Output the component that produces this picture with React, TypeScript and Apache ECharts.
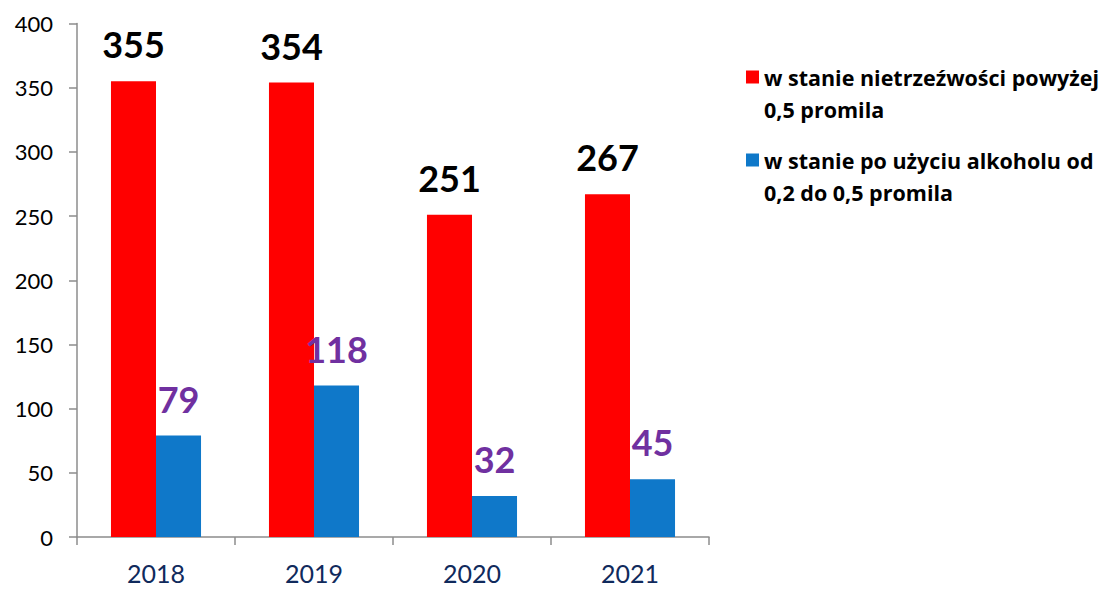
import React, { useEffect, useRef } from "react";
import * as echarts from "echarts";

const categories = ["2018", "2019", "2020", "2021"];
const seriesNames = [
  "w stanie nietrzeźwości powyżej\n0,5 promila",
  "w stanie po użyciu alkoholu od\n0,2 do 0,5 promila",
];
const drunkValues = [355, 354, 251, 267];
const alcoholValues = [79, 118, 32, 45];
const yTicks = [0, 50, 100, 150, 200, 250, 300, 350, 400];

export default function App() {
  const ref = useRef<HTMLDivElement>(null);
  useEffect(() => {
    if (!ref.current) return;
    const chart = echarts.init(ref.current, undefined, { renderer: "svg" });
    const font = "Lato, 'Noto Sans', sans-serif";
    const legendText = {
      fontFamily: "'Open Sans', Lato, sans-serif",
      fontWeight: "bold" as const,
      fontSize: 21.5,
      color: "#000",
      lineHeight: 32,
    };
    const legendBase = {
      orient: "vertical",
      left: 746,
      padding: 0,
      itemWidth: 13,
      itemHeight: 13,
      itemGap: 0,
      icon: "rect",
      textStyle: legendText,
      formatter: (name: string) => "\n" + name,
    };
    chart.setOption({
      animation: false,
      backgroundColor: "#fff",
      grid: { left: 77, right: 406, top: 23.5, bottom: 52, containLabel: false },
      legend: [
        { ...legendBase, data: [seriesNames[0]], top: 29 },
        { ...legendBase, data: [seriesNames[1]], top: 112 },
      ],
      xAxis: {
        type: "category",
        data: categories,
        axisLine: { show: true, lineStyle: { color: "#8c8c8c", width: 1.5 } },
        axisTick: { show: true, length: 8, lineStyle: { color: "#8c8c8c", width: 1.5 } },
        axisLabel: {
          color: "#102A5C",
          fontSize: 25,
          lineHeight: 25,
          fontFamily: font,
          margin: 23,
        },
      },
      yAxis: {
        type: "value",
        min: yTicks[0],
        max: yTicks[yTicks.length - 1],
        interval: 50,
        splitLine: { show: false },
        axisLine: { show: true, lineStyle: { color: "#8c8c8c", width: 1.5 } },
        axisTick: { show: true, length: 8, lineStyle: { color: "#8c8c8c", width: 1.5 } },
        axisLabel: { color: "#000", fontSize: 22, fontFamily: font, margin: 24 },
      },
      series: [
        {
          name: seriesNames[0],
          type: "bar",
          data: drunkValues,
          barGap: "0%",
          barCategoryGap: "43%",
          itemStyle: { color: "#FF0000" },
          label: {
            show: true,
            position: "top",
            distance: 19,
            color: "#000",
            fontSize: 36,
            fontWeight: "bold",
            fontFamily: font,
          },
        },
        {
          name: seriesNames[1],
          type: "bar",
          data: alcoholValues,
          itemStyle: { color: "#0F78C9" },
          label: {
            show: true,
            position: "top",
            distance: 19,
            color: "#7030A0",
            fontSize: 36,
            fontWeight: "bold",
            fontFamily: font,
          },
        },
      ],
    });
    return () => chart.dispose();
  }, []);
  return (
    <div
      ref={ref}
      style={{ position: "fixed", left: 0, top: 0, width: 1115, height: 589 }}
    />
  );
}
